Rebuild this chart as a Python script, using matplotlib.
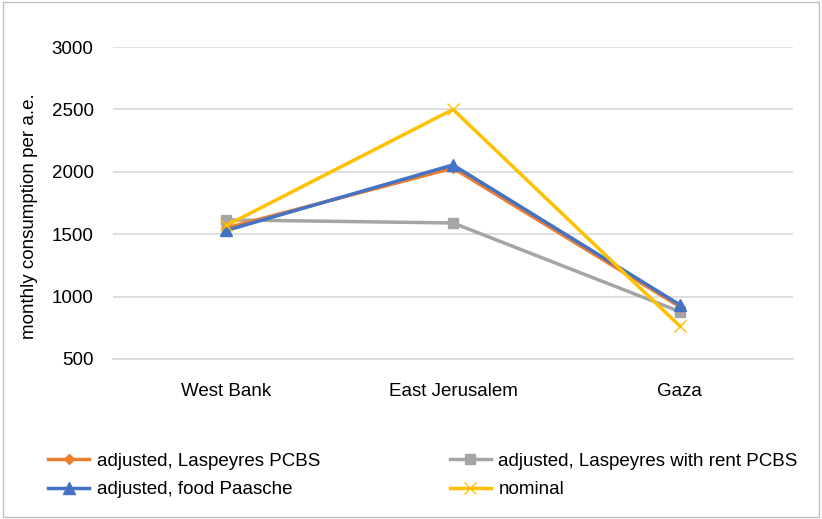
import matplotlib.pyplot as plt
from matplotlib.patches import Rectangle

plt.rcParams['font.family'] = ['Liberation Sans Narrow', 'Liberation Sans', 'DejaVu Sans']

regions = ['West Bank', 'East Jerusalem', 'Gaza']
laspeyres = [1550, 2030, 920]
laspeyres_rent = [1615, 1590, 880]
food_paasche = [1530, 2055, 935]
nominal = [1570, 2500, 765]

fig = plt.figure(figsize=(8.22, 5.19), dpi=100)
ax = fig.add_axes([0.1375, 0.3083, 0.8272, 0.6011])

x = range(len(regions))
ax.plot(x, laspeyres, color='#ED7D31', lw=2.5, marker='D', ms=5, label='adjusted, Laspeyres PCBS', zorder=3)
ax.plot(x, laspeyres_rent, color='#A5A5A5', lw=2.5, marker='s', ms=7, label='adjusted, Laspeyres with rent PCBS', zorder=2)
ax.plot(x, food_paasche, color='#4472C4', lw=2.5, marker='^', ms=8, label='adjusted, food Paasche', zorder=4)
ax.plot(x, nominal, color='#FFC000', lw=2.5, marker='x', ms=8, mew=1, label='nominal', zorder=5)

ax.set_xlim(-0.5, 2.5)
ax.set_ylim(500, 3000)
ax.set_yticks(range(500, 3001, 500))
ax.set_xticks(list(x))
ax.set_xticklabels(regions)
ax.yaxis.grid(True, color='#D9D9D9', lw=1.2)
ax.set_axisbelow(True)
for s in ['top', 'right', 'left']:
    ax.spines[s].set_visible(False)
ax.spines['bottom'].set_color('#D9D9D9')
ax.spines['bottom'].set_linewidth(1.2)
ax.tick_params(length=0, labelsize=13.5, colors='#000000')
ax.tick_params(axis='x', pad=17)
ax.tick_params(axis='y', pad=14)
ax.set_ylabel('monthly consumption per a.e.', fontsize=13.5)
ax.yaxis.set_label_coords(-0.11, 0.458)

h, l = ax.get_legend_handles_labels()
order = [0, 2, 1, 3]
fig.legend([h[i] for i in order], [l[i] for i in order], ncol=2,
           loc='upper left', bbox_to_anchor=(0.038, 0.16), frameon=False,
           fontsize=13.5, handlelength=2.2, handletextpad=0.4, columnspacing=6.9,
           labelspacing=0.6)

fig.add_artist(Rectangle((0.004, 0.004), 0.992, 0.992, transform=fig.transFigure,
                         fill=False, edgecolor='#BFBFBF', lw=1))

plt.savefig('out.png', dpi=100)
